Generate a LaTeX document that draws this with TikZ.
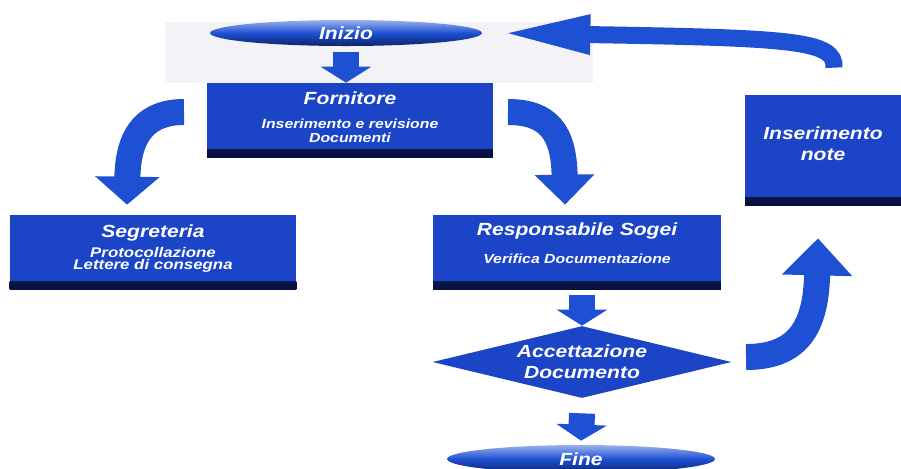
\documentclass[tikz,border=0pt]{standalone}
\usepackage{fontspec}
\setmainfont{Liberation Sans}[FakeStretch=1.2]
\usetikzlibrary{shapes.geometric, arrows.meta, calc}

\definecolor{boxblue}{RGB}{27,68,198}
\definecolor{boxdark}{RGB}{6,16,60}
\definecolor{arrowblue}{RGB}{30,80,212}
\definecolor{bandgrey}{RGB}{243,243,247}

\newcommand{\subtxt}{\fontsize{7.5}{8.5}\selectfont}
\newcommand{\subtxtb}{\fontsize{8}{8.5}\selectfont}

\tikzset{
    stepbox/.style={rectangle, fill=boxblue, text=white, align=center, inner sep=0pt,
        font=\bfseries\itshape\fontsize{10}{12}\selectfont,
        path picture={\shade[top color=boxblue, bottom color=boxdark]
            ([yshift=4pt]path picture bounding box.south west) rectangle (path picture bounding box.south east);}},
    oval/.style={ellipse, inner sep=0pt, text=white, top color=arrowblue!45!white,
        bottom color=boxdark!70!arrowblue, middle color=arrowblue,
        font=\bfseries\itshape\fontsize{10}{12}\selectfont},
    decision/.style={diamond, aspect=4.15, inner sep=0pt, fill=boxblue, text=white, align=center,
        font=\bfseries\itshape\fontsize{10}{12}\selectfont},
    fatarrow/.style={draw=arrowblue, line width=0.52cm, -{Triangle[length=0.32cm, width=1cm]}},
    bendarrow/.style={draw=arrowblue, line width=0.52cm, -{Triangle[length=0.56cm, width=1.26cm]}},
}

\begin{document}
\begin{tikzpicture}[x=0.02cm, y=-0.02cm]
    \path[use as bounding box, clip] (0, 0) rectangle (901, 468);

    % light band behind the start
    \fill[bandgrey] (165, 22) rectangle (593, 83);

    \node[oval, minimum width=5.44cm, minimum height=0.52cm] (inizio) at (346, 33) {Inizio};
    \node[stepbox, minimum width=5.72cm, minimum height=1.48cm, text depth=3.3pt] (forn) at (350, 120)
        {Fornitore\\[1.5pt]\subtxt Inserimento e revisione\\[-4pt]\subtxt Documenti};
    \node[stepbox, minimum width=5.74cm, minimum height=1.48cm, text depth=5.4pt] (segr) at (153, 252)
        {Segreteria\\[-0.5pt]\subtxtb Protocollazione\\[-5pt]\subtxtb Lettere di consegna};
    \node[stepbox, minimum width=5.76cm, minimum height=1.48cm, text depth=10pt] (resp) at (577, 252)
        {Responsabile Sogei\\[3.5pt]\subtxt Verifica Documentazione};
    \node[stepbox, minimum width=3.12cm, minimum height=2.2cm, text depth=7.2pt] (note) at (823, 150)
        {Inserimento\\note};
    \node[decision, minimum width=5.98cm, minimum height=1.44cm] (acc) at (582, 362)
        {Accettazione\\Documento};
    \node[oval, minimum width=5.36cm, minimum height=0.56cm] (fine) at (581, 459) {Fine};

    % free ends of the bent arrows
    \coordinate (lstart) at (184, 112);
    \coordinate (rstart) at (508, 112);
    \coordinate (ustart) at (746, 357);

    \draw[fatarrow] ($(inizio.south)+(0, 6)$) -- (inizio.south |- forn.north);
    \draw[fatarrow] ($(resp.south -| acc.north)+(0, 6)$) -- (acc.north);
    \draw[fatarrow] ($(acc.south)+(0, 15)$) -- ($(fine.north)+(0, -4)$);

    \draw[bendarrow] (lstart) .. controls (148, 112) and (128, 132) .. ($(segr.north)+(-26, -10)$);
    \draw[bendarrow, -{Triangle[length=0.6cm, width=1.16cm]}]
        (rstart) .. controls (548, 112) and (564, 132) .. ($(resp.north)+(-12, -10)$);
    \draw[bendarrow, -{Triangle[length=0.74cm, width=1.36cm]}]
        (ustart) .. controls (802, 357) and (816, 322) .. ($(note.south)+(-5, 33)$);
    \draw[draw=arrowblue, line width=0.34cm, -{Triangle[length=1.86cm, width=0.7cm]}]
        ($(note.north)+(11, -27)$) .. controls (836, 40) and (790, 38) .. ($(inizio.east)+(15, 0)$);
\end{tikzpicture}
\end{document}
